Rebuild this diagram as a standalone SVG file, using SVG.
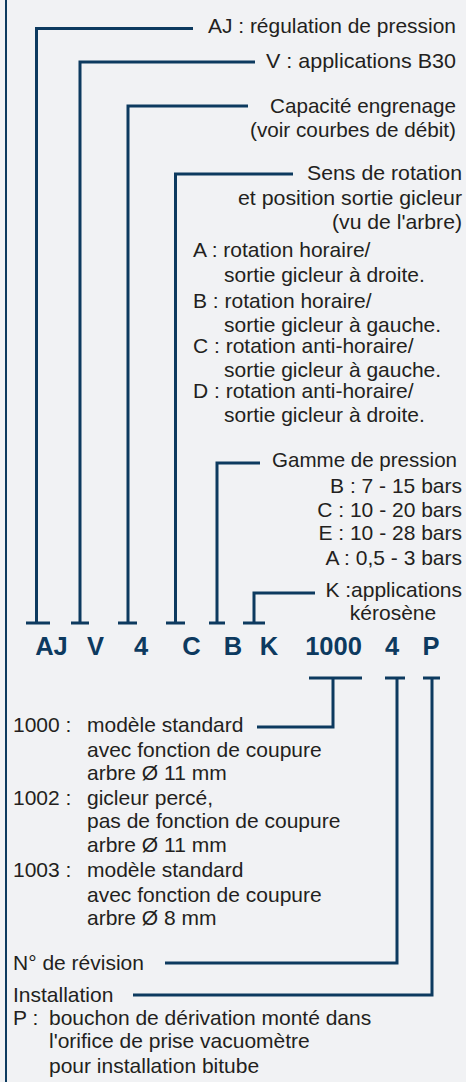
<svg xmlns="http://www.w3.org/2000/svg" width="466" height="1082" viewBox="0 0 466 1082">
<style>
.bg{fill:#f1f2f4}
.t{font-family:"Liberation Sans",Arial,sans-serif;font-size:21px;fill:#231f20}
.e{text-anchor:end}
.m{text-anchor:middle}
.code{font-family:"Liberation Sans",Arial,sans-serif;font-size:25.5px;font-weight:bold;fill:#0d3a5f;text-anchor:middle}
.ln{fill:none;stroke:#0d3a5f;stroke-width:3}
</style>
<rect class="bg" x="0" y="0" width="466" height="1082"/>
<line x1="6" y1="0" x2="6" y2="1082" stroke="#0d3a5f" stroke-width="2"/>

<g id="connectors">
  <path class="ln" d="M193 28.5H36.5V623M26 623H50"/>
  <path class="ln" d="M255 62H80V623M71 623H89"/>
  <path class="ln" d="M248 106H128V623M118 623H137"/>
  <path class="ln" d="M293 174H175.5V623M166 623H185"/>
  <path class="ln" d="M260 463H217V623M209 623H225"/>
  <path class="ln" d="M315 593H254V623M243 623H265"/>
  <path class="ln" d="M309 678H362M333 678V727H257"/>
  <path class="ln" d="M385 678H405M397 678V963H165"/>
  <path class="ln" d="M423 678H440M432 678V995H133"/>
</g>

<g id="node-AJ">
  <text class="code" x="51.5" y="655">AJ</text>
  <text class="t e" x="456" y="33" textLength="248" lengthAdjust="spacingAndGlyphs">AJ : régulation de pression</text>
</g>
<g id="node-V">
  <text class="code" x="95.5" y="655">V</text>
  <text class="t e" x="456" y="68" textLength="190" lengthAdjust="spacingAndGlyphs">V : applications B30</text>
</g>
<g id="node-4">
  <text class="code" x="141" y="655">4</text>
  <text class="t e" x="456" y="113" textLength="186" lengthAdjust="spacingAndGlyphs">Capacité engrenage</text>
  <text class="t e" x="456" y="137" textLength="206" lengthAdjust="spacingAndGlyphs">(voir courbes de débit)</text>
</g>
<g id="node-C">
  <text class="code" x="191.5" y="655">C</text>
  <text class="t e" x="462" y="180" textLength="155" lengthAdjust="spacingAndGlyphs">Sens de rotation</text>
  <text class="t e" x="462" y="205" textLength="224" lengthAdjust="spacingAndGlyphs">et position sortie gicleur</text>
  <text class="t e" x="462" y="229" textLength="130" lengthAdjust="spacingAndGlyphs">(vu de l'arbre)</text>
  <text class="t" x="193" y="257">A : rotation horaire/</text>
  <text class="t" x="224" y="282">sortie gicleur à droite.</text>
  <text class="t" x="193" y="308">B : rotation horaire/</text>
  <text class="t" x="224" y="332">sortie gicleur à gauche.</text>
  <text class="t" x="193" y="353">C : rotation anti-horaire/</text>
  <text class="t" x="224" y="377">sortie gicleur à gauche.</text>
  <text class="t" x="193" y="398">D : rotation anti-horaire/</text>
  <text class="t" x="224" y="422">sortie gicleur à droite.</text>
</g>
<g id="node-B">
  <text class="code" x="233" y="655">B</text>
  <text class="t e" x="457" y="467" textLength="185" lengthAdjust="spacingAndGlyphs">Gamme de pression</text>
  <text class="t e" x="462" y="493">B : 7 - 15 bars</text>
  <text class="t e" x="462" y="517">C : 10 - 20 bars</text>
  <text class="t e" x="462" y="540">E : 10 - 28 bars</text>
  <text class="t e" x="462" y="565">A : 0,5 - 3 bars</text>
</g>
<g id="node-K">
  <text class="code" x="269" y="655">K</text>
  <text class="t e" x="462" y="597">K :applications</text>
  <text class="t m" x="393" y="620">kérosène</text>
</g>
<g id="node-1000">
  <text class="code" x="333.5" y="655">1000</text>
  <text class="t" x="13" y="732">1000 :</text>
  <text class="t" x="87" y="732">modèle standard</text>
  <text class="t" x="87" y="757">avec fonction de coupure</text>
  <text class="t" x="87" y="780">arbre Ø 11 mm</text>
  <text class="t" x="13" y="805">1002 :</text>
  <text class="t" x="87" y="805">gicleur percé,</text>
  <text class="t" x="87" y="828">pas de fonction de coupure</text>
  <text class="t" x="87" y="852">arbre Ø 11 mm</text>
  <text class="t" x="13" y="877">1003 :</text>
  <text class="t" x="87" y="877">modèle standard</text>
  <text class="t" x="87" y="902">avec fonction de coupure</text>
  <text class="t" x="87" y="925">arbre Ø 8 mm</text>
</g>
<g id="node-rev">
  <text class="code" x="392" y="655">4</text>
  <text class="t" x="13" y="970">N° de révision</text>
</g>
<g id="node-P">
  <text class="code" x="431" y="655">P</text>
  <text class="t" x="13" y="1002">Installation</text>
  <text class="t" x="13" y="1025">P :</text>
  <text class="t" x="49" y="1025">bouchon de dérivation monté dans</text>
  <text class="t" x="49" y="1048">l'orifice de prise vacuomètre</text>
  <text class="t" x="49" y="1073">pour installation bitube</text>
</g>
</svg>
